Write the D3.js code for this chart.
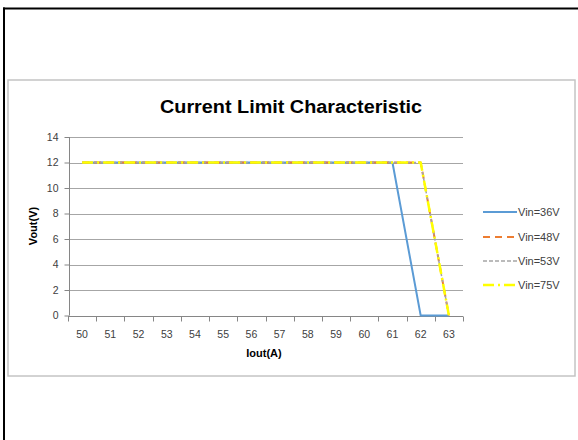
<!DOCTYPE html>
<html>
<head>
<meta charset="utf-8">
<script src="https://cdn.jsdelivr.net/npm/d3@7"></script>
<style>
body { margin: 0; background: #fff; }
svg { display: block; font-family: "Liberation Sans", Arial, sans-serif; }
</style>
</head>
<body>
<svg id="chart" width="578" height="440"></svg>
<script>
// data
var iout = [50, 51, 52, 53, 54, 55, 56, 57, 58, 59, 60, 61, 62, 63];
var vin36 = [12, 12, 12, 12, 12, 12, 12, 12, 12, 12, 12, 12, 0, 0];
var vin48 = [12, 12, 12, 12, 12, 12, 12, 12, 12, 12, 12, 12, 12, 0];
var vin53 = [12, 12, 12, 12, 12, 12, 12, 12, 12, 12, 12, 12, 12, 0];
var vin75 = [12, 12, 12, 12, 12, 12, 12, 12, 12, 12, 12, 12, 12, 0];
var seriesNames = ['Vin=36V', 'Vin=48V', 'Vin=53V', 'Vin=75V'];
var yTicks = [0, 2, 4, 6, 8, 10, 12, 14];

var seriesData = [vin36, vin48, vin53, vin75];
var styles = [
	{color: '#5b9bd5', width: 2, dash: null},
	{color: '#ed7d31', width: 2, dash: '7,5'},
	{color: '#a5a5a5', width: 1.5, dash: '4,2'},
	{color: '#ffff00', width: 2.5, dash: '11,4,2,4'}
];

var svg = d3.select('#chart');

// outer frame (black, top + left only)
svg.append('line').attr('x1', 3).attr('x2', 578).attr('y1', 8.5).attr('y2', 8.5)
	.attr('stroke', '#000').attr('stroke-width', 2);
svg.append('line').attr('x1', 4).attr('x2', 4).attr('y1', 7.5).attr('y2', 440)
	.attr('stroke', '#000').attr('stroke-width', 2);

// chart box
svg.append('rect').attr('x', 8).attr('y', 80).attr('width', 567).attr('height', 296)
	.attr('fill', '#fff').attr('stroke', '#c4c4c4').attr('stroke-width', 1.5);

var x = d3.scaleBand().domain(iout).range([68, 463]).padding(0);
var y = d3.scaleLinear().domain([0, 14]).range([315.5, 137]);
var cx = function (v) { return x(v) + x.bandwidth() / 2; };

// title
svg.append('text').attr('x', 291).attr('y', 113).attr('text-anchor', 'middle')
	.attr('font-size', 18).attr('font-weight', 'bold').attr('fill', '#000')
	.attr('textLength', 262).attr('lengthAdjust', 'spacingAndGlyphs')
	.text('Current Limit Characteristic');

// gridlines
svg.append('g').selectAll('line')
		.data(yTicks.filter(function (d) { return d > 0; }))
	.enter()
		.append('line')
		.attr('x1', 69).attr('x2', 463)
		.attr('y1', function (d) { return Math.round(y(d)) + 0.5; })
		.attr('y2', function (d) { return Math.round(y(d)) + 0.5; })
		.attr('stroke', '#a6a6a6').attr('stroke-width', 1);

// y axis
var yAxis = d3.axisLeft(y).tickValues(yTicks).tickSize(5).tickPadding(6);
var gy = svg.append('g').attr('transform', 'translate(69.5,0)').call(yAxis);
gy.select('.domain').attr('stroke', '#868686').attr('d', 'M0,' + y(14) + 'V' + y(0));
gy.selectAll('.tick line').attr('stroke', '#868686');
gy.selectAll('.tick text').attr('font-size', 10.5).attr('fill', '#404040')
	.attr('font-family', '"Liberation Sans", Arial, sans-serif');

// x axis, category style: ticks between the bands
var gx = svg.append('g').attr('transform', 'translate(0,' + (Math.round(y(0)) + 0.5) + ')');
gx.append('line').attr('x1', 68).attr('x2', 463).attr('y1', 0).attr('y2', 0).attr('stroke', '#868686');
var bounds = iout.map(function (d) { return x(d); });
bounds.push(463);
gx.selectAll('line.tk')
		.data(bounds)
	.enter()
		.append('line')
		.classed('tk', true)
		.attr('x1', function (d) { return Math.round(d) + 0.5; })
		.attr('x2', function (d) { return Math.round(d) + 0.5; })
		.attr('y1', 0).attr('y2', 5)
		.attr('stroke', '#868686');
gx.selectAll('text')
		.data(iout)
	.enter()
		.append('text')
		.attr('x', cx)
		.attr('y', 21.5)
		.attr('text-anchor', 'middle')
		.attr('font-size', 10.5).attr('fill', '#404040')
		.text(function (d) { return d; });

// axis titles
svg.append('text').attr('x', 264).attr('y', 357).attr('text-anchor', 'middle')
	.attr('font-size', 11).attr('font-weight', 'bold').attr('fill', '#000').text('Iout(A)');
svg.append('text').attr('transform', 'translate(36.5,226) rotate(-90)').attr('text-anchor', 'middle')
	.attr('font-size', 11).attr('font-weight', 'bold').attr('fill', '#000').text('Vout(V)');

// series lines
var line = d3.line()
	.x(function (d, i) { return cx(iout[i]); })
	.y(function (d) { return y(d); });

svg.append('g').selectAll('path')
		.data(seriesData)
	.enter()
		.append('path')
		.attr('fill', 'none')
		.attr('stroke', function (d, i) { return styles[i].color; })
		.attr('stroke-width', function (d, i) { return styles[i].width; })
		.attr('stroke-dasharray', function (d, i) { return styles[i].dash; })
		.attr('stroke-linejoin', 'round')
		.attr('d', line);

// legend
var legendY = [212, 237, 261, 285];
var lg = svg.append('g').selectAll('g')
		.data(seriesNames)
	.enter()
		.append('g')
		.attr('transform', function (d, i) { return 'translate(483,' + legendY[i] + ')'; });
lg.append('line')
	.attr('x1', 0).attr('x2', 34).attr('y1', 0).attr('y2', 0)
	.attr('stroke', function (d, i) { return styles[i].color; })
	.attr('stroke-width', function (d, i) { return styles[i].width; })
	.attr('stroke-dasharray', function (d, i) { return styles[i].dash; });
lg.append('text')
	.attr('x', 35).attr('y', 4)
	.attr('font-size', 11).attr('fill', '#404040')
	.text(function (d) { return d; });
</script>
</body>
</html>
